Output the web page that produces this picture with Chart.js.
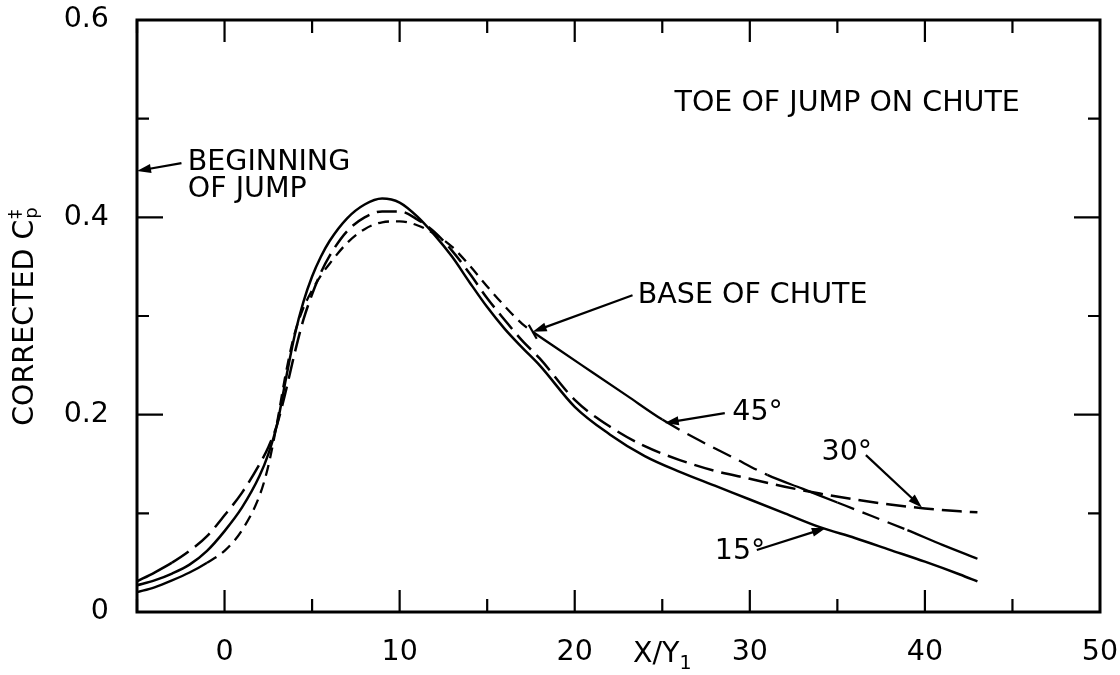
<!DOCTYPE html>
<html><head><meta charset="utf-8">
<script src="https://cdn.jsdelivr.net/npm/chart.js@4.4.0/dist/chart.umd.min.js"></script>
<style>html,body{margin:0;padding:0;background:#fff}#wrap{width:1120px;height:675px}</style>
</head><body><div id="wrap"><canvas id="c" width="1120" height="675"></canvas></div>
<script>
// ---- data ----
const x15 = [-5,-4,-3,-2,-1,0,1,2,2.5,3,3.5,4,4.5,5,5.5,6,7,8,9,10,11,12,13,14,15,16,17,18,20,22,24,26,28,30,32,34,36,38,40,42,43];
const y15 = [0.027,0.032,0.039,0.048,0.062,0.082,0.106,0.138,0.160,0.190,0.236,0.280,0.314,0.340,0.360,0.376,0.399,0.413,0.419,0.415,0.401,0.382,0.360,0.334,0.309,0.287,0.268,0.250,0.208,0.180,0.158,0.142,0.128,0.114,0.100,0.086,0.075,0.063,0.051,0.038,0.031];
const x30 = [-5,-4,-3,-2,-1,0,1,2,2.5,3,3.5,4,4.5,5,5.5,6,7,8,9,10,11,12,13,14,15,16,17,18,20,22,24,26,28,30,32,34,36,38,40,42,43];
const y30 = [0.031,0.040,0.050,0.062,0.077,0.098,0.121,0.150,0.167,0.190,0.224,0.262,0.296,0.322,0.344,0.361,0.386,0.400,0.406,0.406,0.398,0.385,0.366,0.343,0.318,0.296,0.275,0.257,0.215,0.188,0.168,0.154,0.143,0.135,0.127,0.120,0.114,0.109,0.105,0.102,0.101];
const x45 = [-5,-4,-3,-2,-1,0,1,2,2.5,3,3.5,4,4.5,5,5.5,6,7,8,9,10,11,12,13,14,15,16,17,17.6,19,21,23,25,27,29,31,33,35,37,39,41,43];
const y45 = [0.020,0.025,0.032,0.040,0.050,0.062,0.083,0.118,0.148,0.192,0.242,0.282,0.308,0.326,0.341,0.353,0.374,0.388,0.395,0.396,0.392,0.383,0.370,0.351,0.330,0.310,0.292,0.284,0.267,0.243,0.219,0.195,0.175,0.157,0.139,0.125,0.111,0.097,0.083,0.068,0.054];

const xTickLabels = [0,10,20,30,40,50];
const yTickLabels = [0,0.2,0.4,0.6];
const xMajorTicks = [0,10,20,30,40];
const xMinorTicks = [-5,5,15,25,35,45];
const yMajorTicks = [0.2,0.4];
const yMinorTicks = [0.1,0.3,0.5];

const noteTexts = ['BEGINNING','OF JUMP','TOE OF JUMP ON CHUTE','BASE OF CHUTE','45°','30°','15°'];
const noteX = [-2.1,-2.1,25.7,23.6,29.0,34.1,28.0];
const noteY = [0.458,0.431,0.518,0.323,0.205,0.164,0.064];
// arrows: from (ax0,ay0) to tip (ax1,ay1)
const arrowX0 = [-2.46,23.3,28.57,36.63,30.4];
const arrowY0 = [0.455,0.321,0.2016,0.159,0.0628];
const arrowX1 = [-5,17.6,25.14,39.83,34.34];
const arrowY1 = [0.447,0.284,0.1915,0.106,0.0851];
const baseOfChute = [17.6,0.284];

const FONT = "'DejaVu Sans', sans-serif";
const FS = 28.5;

function pts(xs, ys){ return xs.map((x,i)=>({x:x, y:ys[i]})); }

const dash45 = ctx => {
  const x = ctx.p0.parsed.x;
  if (x < -1.5) return [];
  if (x < 17.6) return [11,7];
  if (x < 24.7) return [];
  if (x < 29.4) return [20,9];
  if (x < 35) return [];
  if (x < 38) return [18,9];
  return [];
};
const dash30 = ctx => (ctx.p0.parsed.x < -3.5 ? [] : [20,8]);

const decor = {
  id:'decor',
  afterDatasetsDraw(chart){
    const c = chart.ctx, a = chart.chartArea;
    const xs = chart.scales.x, ys = chart.scales.y;
    c.save();
    c.strokeStyle = '#000'; c.fillStyle = '#000';
    // frame
    c.lineWidth = 3;
    c.strokeRect(a.left, a.top, a.right - a.left, a.bottom - a.top);
    // ticks
    c.lineWidth = 2.2;
    const tx = (v, len) => {
      const p = xs.getPixelForValue(v);
      c.beginPath(); c.moveTo(p, a.bottom); c.lineTo(p, a.bottom - len);
      c.moveTo(p, a.top); c.lineTo(p, a.top + len); c.stroke();
    };
    const ty = (v, len) => {
      const p = ys.getPixelForValue(v);
      c.beginPath(); c.moveTo(a.left, p); c.lineTo(a.left + len, p);
      c.moveTo(a.right, p); c.lineTo(a.right - len, p); c.stroke();
    };
    xMajorTicks.forEach(v => tx(v, 22));
    xMinorTicks.forEach(v => tx(v, 13));
    yMajorTicks.forEach(v => ty(v, 26));
    yMinorTicks.forEach(v => ty(v, 12));
    // notes
    c.font = FS + 'px ' + FONT;
    c.textAlign = 'left'; c.textBaseline = 'alphabetic';
    noteTexts.forEach((t,i) => {
      c.fillText(t, xs.getPixelForValue(noteX[i]), ys.getPixelForValue(noteY[i]) + 10);
    });
    // arrows
    c.lineWidth = 2.2;
    arrowX0.forEach((_,i) => {
      const x0 = xs.getPixelForValue(arrowX0[i]), y0 = ys.getPixelForValue(arrowY0[i]);
      const x1 = xs.getPixelForValue(arrowX1[i]), y1 = ys.getPixelForValue(arrowY1[i]);
      const ang = Math.atan2(y1 - y0, x1 - x0);
      const L = 14, W = 4.5;
      c.beginPath(); c.moveTo(x0, y0); c.lineTo(x1 - L*0.6*Math.cos(ang), y1 - L*0.6*Math.sin(ang)); c.stroke();
      c.beginPath();
      c.moveTo(x1, y1);
      c.lineTo(x1 - L*Math.cos(ang) - W*Math.sin(ang), y1 - L*Math.sin(ang) + W*Math.cos(ang));
      c.lineTo(x1 - L*Math.cos(ang) + W*Math.sin(ang), y1 - L*Math.sin(ang) - W*Math.cos(ang));
      c.closePath(); c.fill();
    });
    // base of chute mark
    const bx = xs.getPixelForValue(baseOfChute[0]), by = ys.getPixelForValue(baseOfChute[1]);
    c.beginPath(); c.moveTo(bx - 4, by - 7); c.lineTo(bx + 4, by + 7); c.stroke();
    // y title
    c.save();
    const cy = (a.top + a.bottom) / 2;
    c.translate(33, cy); c.rotate(-Math.PI/2);
    c.font = FS + 'px ' + FONT;
    const main = 'CORRECTED C';
    const wMain = c.measureText(main).width;
    c.font = '18px ' + FONT;
    const wSub = Math.max(c.measureText('p').width, c.measureText('\u2021').width);
    const start = -(wMain + wSub + 2) / 2;
    c.font = FS + 'px ' + FONT;
    c.fillText(main, start, 0);
    c.font = '18px ' + FONT;
    c.fillText('\u2021', start + wMain + 1, -12);
    c.fillText('p', start + wMain + 1, 4);
    c.restore();
    // x title
    c.font = FS + 'px ' + FONT;
    const xt = 'X/Y';
    const wx = c.measureText(xt).width;
    c.font = '19px ' + FONT;
    const w1 = c.measureText('1').width;
    const xc = xs.getPixelForValue(25);
    const bl = a.bottom + 50;
    c.font = FS + 'px ' + FONT;
    c.fillText(xt, xc - (wx + w1) / 2, bl);
    c.font = '19px ' + FONT;
    c.fillText('1', xc - (wx + w1) / 2 + wx, bl + 7);
    c.restore();
  }
};

new Chart(document.getElementById('c'), {
  type: 'line',
  data: {
    datasets: [
      { label: '15°', data: pts(x15, y15), borderColor: '#000', borderWidth: 2.5, pointRadius: 0, fill: false, cubicInterpolationMode: 'monotone' },
      { label: '30°', data: pts(x30, y30), borderColor: '#000', borderWidth: 2.5, pointRadius: 0, fill: false, cubicInterpolationMode: 'monotone', segment: { borderDash: dash30 } },
      { label: '45°', data: pts(x45, y45), borderColor: '#000', borderWidth: 2.3, pointRadius: 0, fill: false, cubicInterpolationMode: 'monotone', segment: { borderDash: dash45 } }
    ]
  },
  options: {
    responsive: false,
    animation: false,
    devicePixelRatio: 1,
    layout: { padding: { left: 0, top: 20, right: 20, bottom: 0 } },
    plugins: { legend: { display: false }, tooltip: { enabled: false } },
    scales: {
      x: {
        type: 'linear', min: -5, max: 50,
        grid: { display: false, drawTicks: false },
        border: { display: false },
        ticks: { color: '#000', font: { family: FONT, size: FS }, padding: 23, maxRotation: 0, autoSkip: false },
        afterBuildTicks: s => { s.ticks = xTickLabels.map(v => ({ value: v })); },
        afterFit: s => { s.height = 63; s.paddingLeft = 0; s.paddingRight = 0; }
      },
      y: {
        type: 'linear', min: 0, max: 0.6,
        grid: { display: false, drawTicks: false },
        border: { display: false },
        ticks: { color: '#000', font: { family: FONT, size: FS }, padding: 28, autoSkip: false,
                 callback: v => (v === 0 ? '0' : v.toFixed(1)) },
        afterBuildTicks: s => { s.ticks = yTickLabels.map(v => ({ value: v })); },
        afterFit: s => { s.width = 137; s.paddingTop = 0; s.paddingBottom = 0; }
      }
    }
  },
  plugins: [decor]
});
</script>
</body></html>
